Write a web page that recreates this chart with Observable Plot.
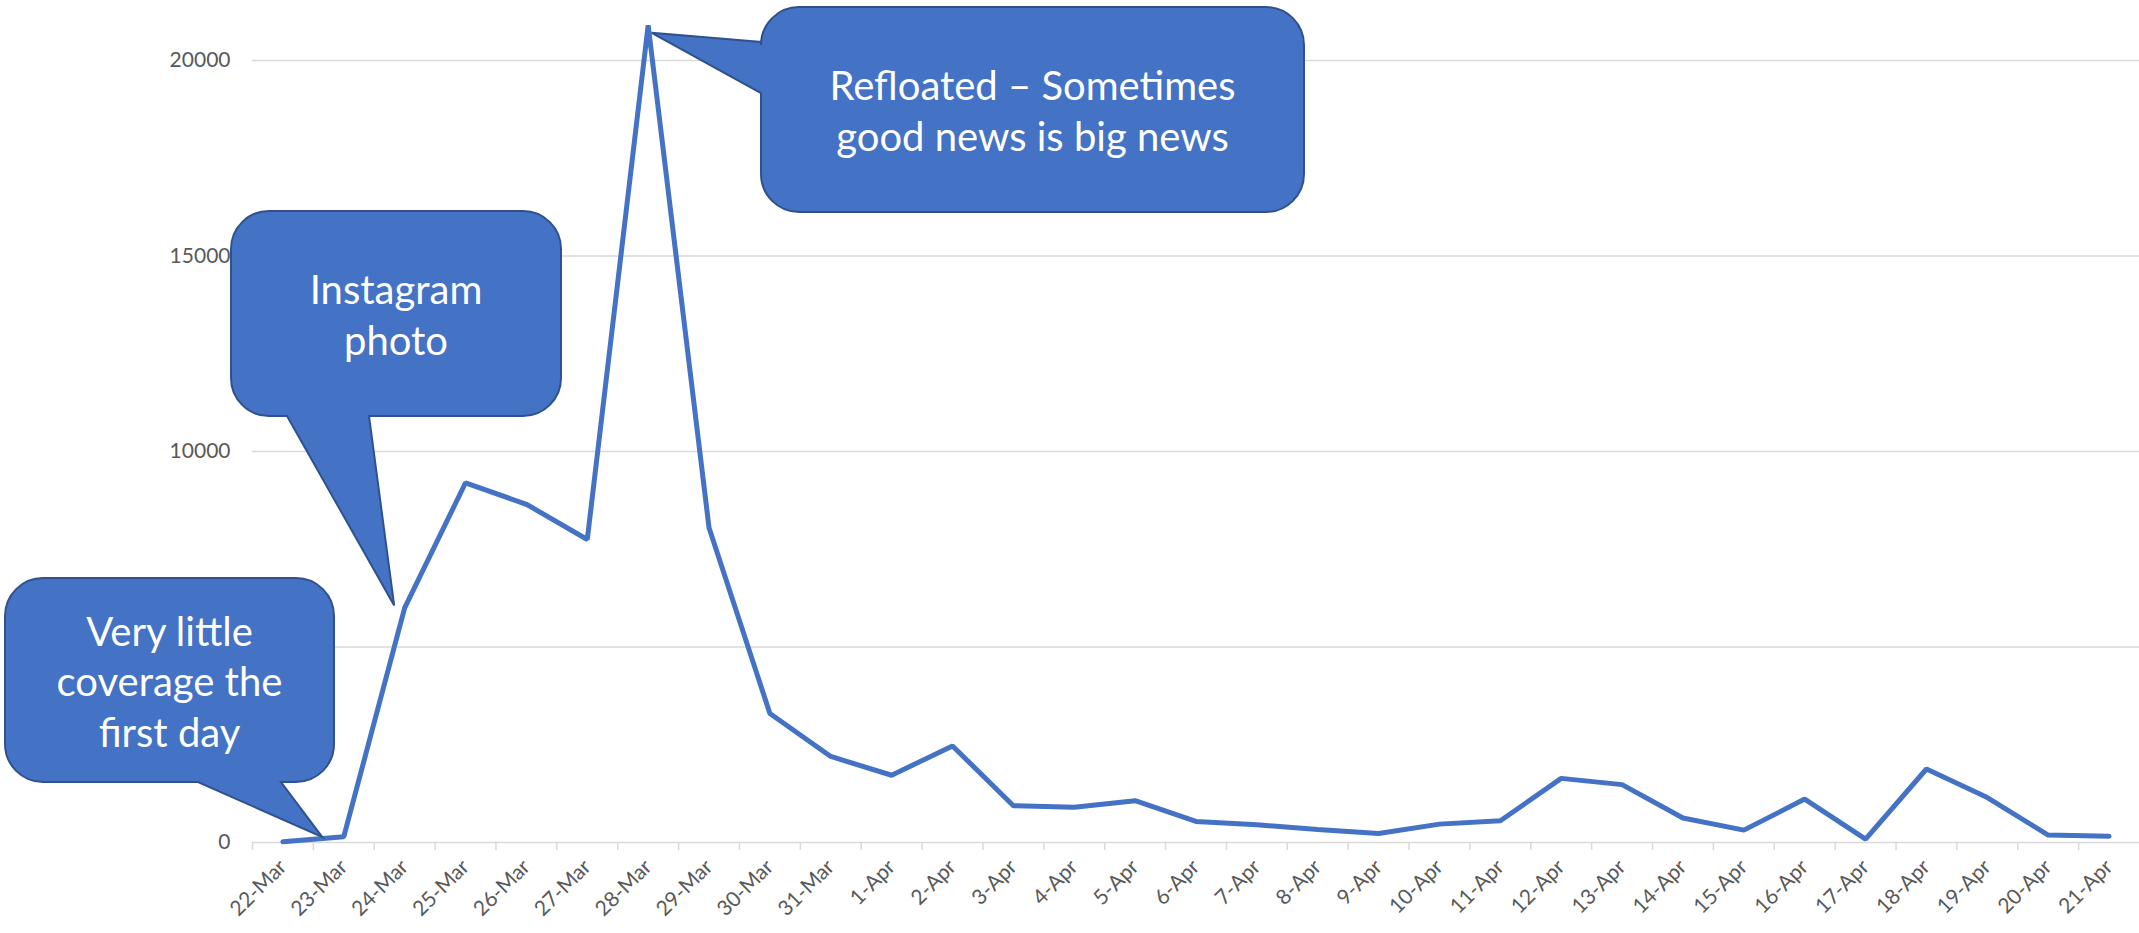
<!DOCTYPE html>
<html><head><meta charset="utf-8">
<script src="https://cdn.jsdelivr.net/npm/d3@7"></script>
<script src="https://cdn.jsdelivr.net/npm/@observablehq/plot@0.6"></script>
<style>body{margin:0;background:#fff;} svg{overflow:visible}</style>
</head><body><div id="chart"></div>
<script>
const dates = ["22-Mar","23-Mar","24-Mar","25-Mar","26-Mar","27-Mar","28-Mar","29-Mar","30-Mar","31-Mar",
  "1-Apr","2-Apr","3-Apr","4-Apr","5-Apr","6-Apr","7-Apr","8-Apr","9-Apr","10-Apr",
  "11-Apr","12-Apr","13-Apr","14-Apr","15-Apr","16-Apr","17-Apr","18-Apr","19-Apr","20-Apr","21-Apr"];
const mentions = [20,150,6000,9200,8650,7750,20900,8050,3300,2200,
  1720,2470,940,900,1070,540,455,330,230,470,
  555,1640,1480,625,316,1110,85,1880,1150,190,160];
const yGrid = [0,5000,10000,15000,20000];
// the 5000 label is hidden behind a callout in the reference
const yLabels = [0,10000,15000,20000];
const calloutDates = ["23-Mar","24-Mar","28-Mar"];
const calloutTexts = [["Very little","coverage the","first day"],["Instagram","photo"],["Refloated – Sometimes","good news is big news"]];

const data = dates.map((d,i) => ({date: d, value: mentions[i]}));

const W = 2139, H = 933;
const mL = 252, mR = 0, mT = 60, mB = 91;
const step = (W - mL - mR) / dates.length;

// callout layout (pixels)
const boxes = [
  {x0:5, y0:578, x1:334, y1:782, side:"bottom", a:198, b:281, tdx:-21, tdy:1},
  {x0:231, y0:211, x1:561, y1:416, side:"bottom", a:287, b:369, tdx:-10, tdy:-2},
  {x0:761, y0:7, x1:1304, y1:212, side:"left", a:42, b:93, tdx:4, tdy:8}
];

function calloutPath(b, tx, ty, r) {
  const {x0,y0,x1,y1} = b;
  const p = d3.path();
  p.moveTo(x0 + r, y0);
  p.lineTo(x1 - r, y0);
  p.arcTo(x1, y0, x1, y0 + r, r);
  p.lineTo(x1, y1 - r);
  p.arcTo(x1, y1, x1 - r, y1, r);
  if (b.side === "bottom") { p.lineTo(b.b, y1); p.lineTo(tx, ty); p.lineTo(b.a, y1); }
  p.lineTo(x0 + r, y1);
  p.arcTo(x0, y1, x0, y1 - r, r);
  if (b.side === "left") { p.lineTo(x0, b.b); p.lineTo(tx, ty); p.lineTo(x0, b.a); }
  p.lineTo(x0, y0 + r);
  p.arcTo(x0, y0, x0 + r, y0, r);
  p.closePath();
  return p.toString();
}

function callouts(index, scales) {
  const g = d3.create("svg:g");
  boxes.forEach((b, i) => {
    const d = calloutDates[i];
    const v = mentions[dates.indexOf(d)];
    const tx = scales.x(d) + b.tdx, ty = scales.y(v) + b.tdy;
    g.append("path").attr("d", calloutPath(b, tx, ty, 38))
      .attr("fill", "#4472C4").attr("stroke", "#2F528F").attr("stroke-width", 2);
    const lines = calloutTexts[i];
    const cx = (b.x0 + b.x1) / 2, cy = (b.y0 + b.y1) / 2 + 2;
    const lh = 50.5;
    lines.forEach((t, j) => {
      g.append("text").attr("x", cx).attr("y", cy + (j - (lines.length - 1) / 2) * lh)
        .attr("dy", "0.35em").attr("text-anchor", "middle")
        .attr("fill", "white").attr("font-family", "Lato, sans-serif").attr("font-size", 40)
        .text(t);
    });
  });
  return g.node();
}

const chart = Plot.plot({
  width: W, height: H,
  marginLeft: mL, marginRight: mR, marginTop: mT, marginBottom: mB,
  style: {fontFamily: "Lato, sans-serif", fontSize: "21px", color: "#595959", background: "white", overflow: "visible"},
  x: {type: "point", domain: dates, padding: 0.5, round: false, label: null},
  y: {domain: [0, 20000], label: null},
  marks: [
    Plot.ruleY(yGrid, {stroke: "#d9d9d9", strokeWidth: 1.5}),
    Plot.axisY(yLabels, {tickSize: 0, tickPadding: 22, tickFormat: d => String(d), fill: "#595959", fontSize: 21, label: null}),
    Plot.axisX({tickSize: 8, tickFormat: () => "", dx: -step / 2, stroke: "#d9d9d9", strokeWidth: 1.5, label: null}),
    Plot.axisX({tickSize: 0, tickRotate: -45, tickPadding: 21, fill: "#595959", fontSize: 21, label: null}),
    Plot.line(data, {x: "date", y: "value", stroke: "#4472C4", strokeWidth: 5, strokeLinejoin: "miter", strokeLinecap: "round"}),
    callouts
  ]
});
document.getElementById("chart").appendChild(chart);
</script>
</body></html>
